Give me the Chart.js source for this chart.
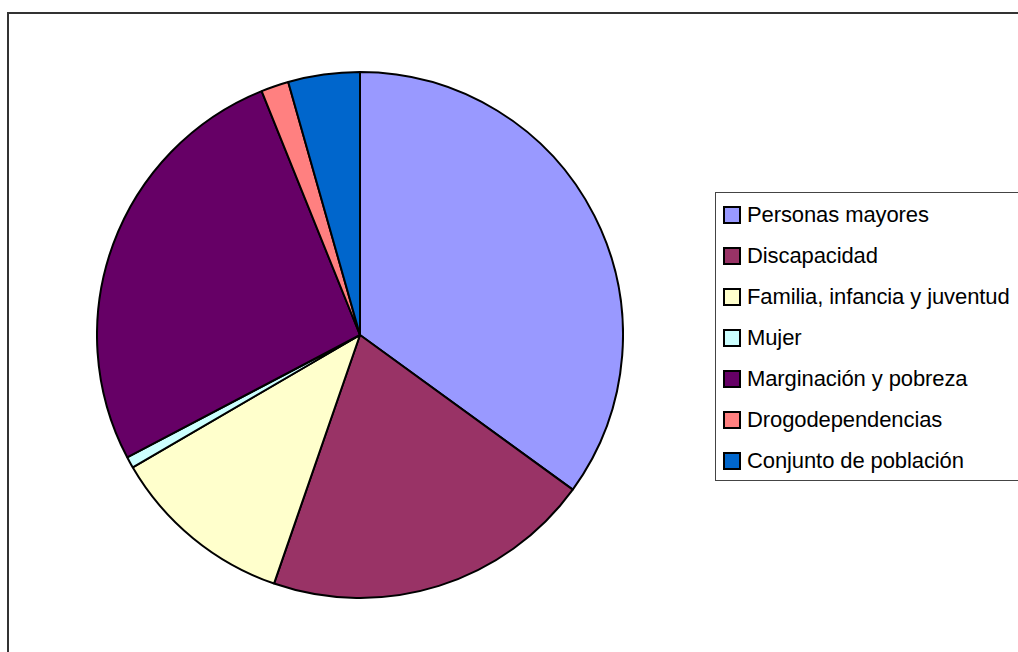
<!DOCTYPE html>
<html>
<head>
<meta charset="utf-8">
<script src="https://cdn.jsdelivr.net/npm/chart.js@4.4.1/dist/chart.umd.min.js"></script>
<style>
  html, body { margin: 0; padding: 0; background: #fff; overflow: hidden; }
  body { width: 1018px; height: 652px; position: relative; font-family: "Liberation Sans", Arial, sans-serif; }
  #frame { position: absolute; left: 7px; top: 12px; width: 1100px; height: 700px; border: 2px solid #333; box-sizing: border-box; }
  #pie { position: absolute; left: 96px; top: 71px; }
  #legend { position: absolute; left: 715px; top: 192px; width: 400px; height: 289px; border: 1px solid #444; box-sizing: border-box; padding-top: 1px; }
  .row { display: flex; align-items: center; height: 41px; }
  .sw { width: 18px; height: 18px; border: 2px solid #000; box-sizing: border-box; margin-left: 7px; margin-right: 6px; flex: none; }
  .lb { font-size: 22px; color: #000; white-space: nowrap; line-height: 1; letter-spacing: -0.1px; }
</style>
</head>
<body>
<div id="frame"></div>
<canvas id="pie" width="528" height="528"></canvas>
<div id="legend"></div>
<script>
// Categories and their shares (%)
const categories = [
  "Personas mayores",
  "Discapacidad",
  "Familia, infancia y juventud",
  "Mujer",
  "Marginación y pobreza",
  "Drogodependencias",
  "Conjunto de población"
];
const shares = [35.0, 20.3, 11.3, 0.7, 26.6, 1.7, 4.4];
const sliceColors = ["#9999FF", "#993366", "#FFFFCC", "#CCFFFF", "#660066", "#FF8080", "#0066CC"];

new Chart(document.getElementById("pie"), {
  type: "pie",
  data: {
    labels: categories,
    datasets: [{
      data: shares,
      backgroundColor: sliceColors,
      borderColor: "#000",
      borderWidth: 2
    }]
  },
  options: {
    responsive: false,
    animation: false,
    devicePixelRatio: 1,
    layout: { padding: 0 },
    plugins: { legend: { display: false }, tooltip: { enabled: false } }
  }
});

// Legend
const legend = document.getElementById("legend");
categories.forEach((name, i) => {
  const row = document.createElement("div");
  row.className = "row";
  const sw = document.createElement("div");
  sw.className = "sw";
  sw.style.background = sliceColors[i];
  const lb = document.createElement("span");
  lb.className = "lb";
  lb.textContent = name;
  row.appendChild(sw);
  row.appendChild(lb);
  legend.appendChild(row);
});
</script>
</body>
</html>
